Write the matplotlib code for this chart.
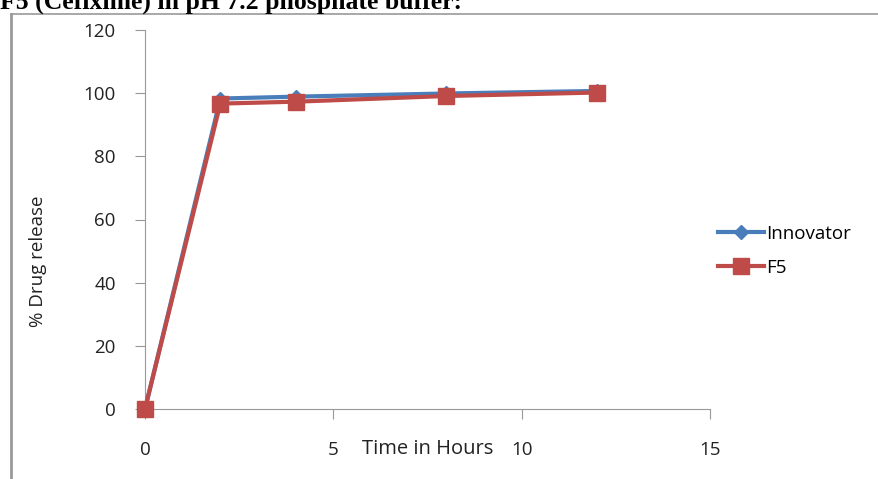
import matplotlib.pyplot as plt
from matplotlib.lines import Line2D

# data
hours = [0, 2, 4, 8, 12]
innovator = [0, 98.3, 98.9, 99.9, 100.7]
f5 = [0, 96.7, 97.3, 99.1, 100.2]

plt.rcParams['font.family'] = ['Open Sans', 'DejaVu Sans']

fig = plt.figure(figsize=(8.79, 4.79), dpi=100)
ax = fig.add_axes([145/879, 1-409/479, 565/879, 379/479])

ax.plot(hours, innovator, color='#4A7EBB', lw=3, marker='D', ms=7.5, label='Innovator', zorder=3, clip_on=False)
ax.plot(hours, f5, color='#BE4B48', lw=3, marker='s', ms=12, label='F5', zorder=4, clip_on=False)

ax.set_xlim(0, 15)
ax.set_ylim(0, 120)
ax.set_xticks([0, 5, 10, 15])
ax.set_yticks(range(0, 121, 20))
for s in ['top', 'right']:
    ax.spines[s].set_visible(False)
for s in ['left', 'bottom']:
    ax.spines[s].set_color('#999999')
ax.tick_params(axis='both', colors='#999999', labelcolor='#222222', labelsize=13.5, length=7)
ax.tick_params(axis='y', pad=14)
ax.tick_params(axis='x', pad=16)

ax.set_xlabel('Time in Hours', fontsize=14.5, color='#222222')
ax.xaxis.set_label_coords(0.5, -0.105)
ax.xaxis.label.set_va('center')
ax.set_ylabel('% Drug release', fontsize=13.5, color='#222222')
ax.yaxis.set_label_coords(-0.19, 0.39)
ax.yaxis.label.set_va('center')

ax.legend(loc='center left', bbox_to_anchor=(1.0, 0.418), frameon=False, fontsize=13.5,
          handlelength=2.5, handletextpad=0.1, labelspacing=0.85, borderaxespad=0)

# cropped heading and border from the page
fig.text(0.0, 1 - 9/479, 'F5 (Cefixime) in pH 7.2 phosphate buffer:', family='Liberation Serif',
         weight='bold', fontsize=18.5, va='baseline', ha='left')
fig.add_artist(Line2D([11/879, 11/879], [0, 1 - 14/479], color='#999999', lw=2))
fig.add_artist(Line2D([11/879, 1], [1 - 14/479, 1 - 14/479], color='#999999', lw=1.2))

fig.savefig('out.png', dpi=100)
